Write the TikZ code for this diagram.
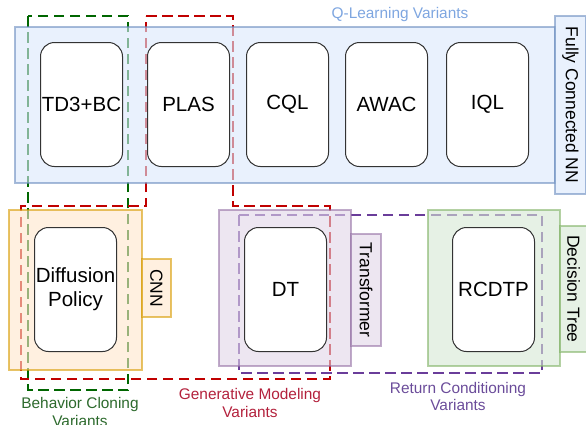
\documentclass[tikz,border=0pt]{standalone}
\usepackage{fontspec}
\setmainfont{Liberation Sans}
\definecolor{qfill}{HTML}{DAE8FC}\definecolor{qline}{HTML}{6C8EBF}
\definecolor{ofill}{HTML}{FFE6CC}\definecolor{oline}{HTML}{D79B00}
\definecolor{pfill}{HTML}{E1D5E7}\definecolor{pline}{HTML}{9673A6}
\definecolor{gfill}{HTML}{D5E8D4}\definecolor{gline}{HTML}{82B366}
\definecolor{dgreen}{HTML}{006600}\definecolor{dred}{HTML}{C00000}\definecolor{dpurple}{HTML}{6A3D9A}
\definecolor{qtext}{HTML}{7EA6E0}\definecolor{bctext}{HTML}{2D6A2D}
\definecolor{gmtext}{HTML}{B3213C}\definecolor{rctext}{HTML}{6B4C9A}
\begin{document}
\begin{tikzpicture}[x=1pt,y=-1pt,
  groupline/.style={line width=2.8pt, dash pattern=on 10.5pt off 5.5pt},
  container/.style={draw, line width=2pt, fill opacity=0.6, draw opacity=0.6, text opacity=1, inner sep=0pt, anchor=north west},
  tagbox/.style={container, font=\fontsize{17.5}{20}\selectfont},
  algo/.style={draw=black!80, fill=white, rounded corners=14pt, line width=1pt, minimum width=82pt, minimum height=124pt, anchor=north west, inner sep=0pt, align=center, font=\fontsize{20.5}{24}\selectfont},
  grouplabel/.style={align=center, font=\fontsize{15.4}{17.5}\selectfont}]
\path[use as bounding box] (0,0) rectangle (586,424);

% group outlines (dashed)
\draw[groupline, dgreen] (28,16) rectangle (128,390);
\draw[groupline, dred] (146,16) -- (233,16) -- (233,206) -- (330,206) -- (330,379) -- (21,379) -- (21,206) -- (146,206) -- cycle;
\draw[groupline, dpurple] (239,215) rectangle (542,373);

% containers
\node[container, draw=qline, fill=qfill, minimum width=540pt, minimum height=156pt] (qbox) at (14,26) {};
\node[tagbox, draw=qline, fill=qfill, minimum width=31pt, minimum height=178pt] (fcnn) at (554,15) {};
\node[rotate=-90, font=\fontsize{17.5}{20}\selectfont] (fcnnt) at (fcnn.center) {Fully Connected NN};

\node[container, draw=oline, fill=ofill, minimum width=133pt, minimum height=160pt] (obox) at (8,209) {};
\node[tagbox, draw=oline, fill=ofill, minimum width=29pt, minimum height=58pt] (cnn) at (141,258) {};
\node[rotate=-90, font=\fontsize{17.5}{20}\selectfont] (cnnt) at (cnn.center) {CNN};

\node[container, draw=pline, fill=pfill, minimum width=132pt, minimum height=156pt] (pbox) at (218,209) {};
\node[tagbox, draw=pline, fill=pfill, minimum width=30pt, minimum height=112pt] (trf) at (350,233) {};
\node[rotate=-90, font=\fontsize{17.5}{20}\selectfont] (trft) at (trf.center) {Transformer};

\node[container, draw=gline, fill=gfill, minimum width=132pt, minimum height=156pt] (gbox) at (427,209) {};
\node[tagbox, draw=gline, fill=gfill, minimum width=27pt, minimum height=126pt] (dtree) at (559,225) {};
\node[rotate=-90, font=\fontsize{17.5}{20}\selectfont] (dtreet) at (dtree.center) {Decision Tree};

% algorithms
\node[algo] (td3) at (40,42) {TD3+BC};
\node[algo] (plas) at (147,42) {PLAS};
\node[algo] (cql) at (246,42) {CQL};
\node[algo] (awac) at (345,42) {AWAC};
\node[algo] (iql) at (446,42) {IQL};
\node[algo] (diff) at (34,227) {Diffusion\\Policy};
\node[algo] (dt) at (244,227) {DT};
\node[algo] (rcdtp) at (452,227) {RCDTP};

% labels
\node[grouplabel, text=qtext] (ql) at (400,15) {Q-Learning Variants};
\node[grouplabel, text=bctext] (bcl) at (80,412) {Behavior Cloning\\Variants};
\node[grouplabel, text=gmtext] (gml) at (250,403) {Generative Modeling\\Variants};
\node[grouplabel, text=rctext] (rcl) at (458,396.5) {Return Conditioning\\Variants};
\end{tikzpicture}
\end{document}
